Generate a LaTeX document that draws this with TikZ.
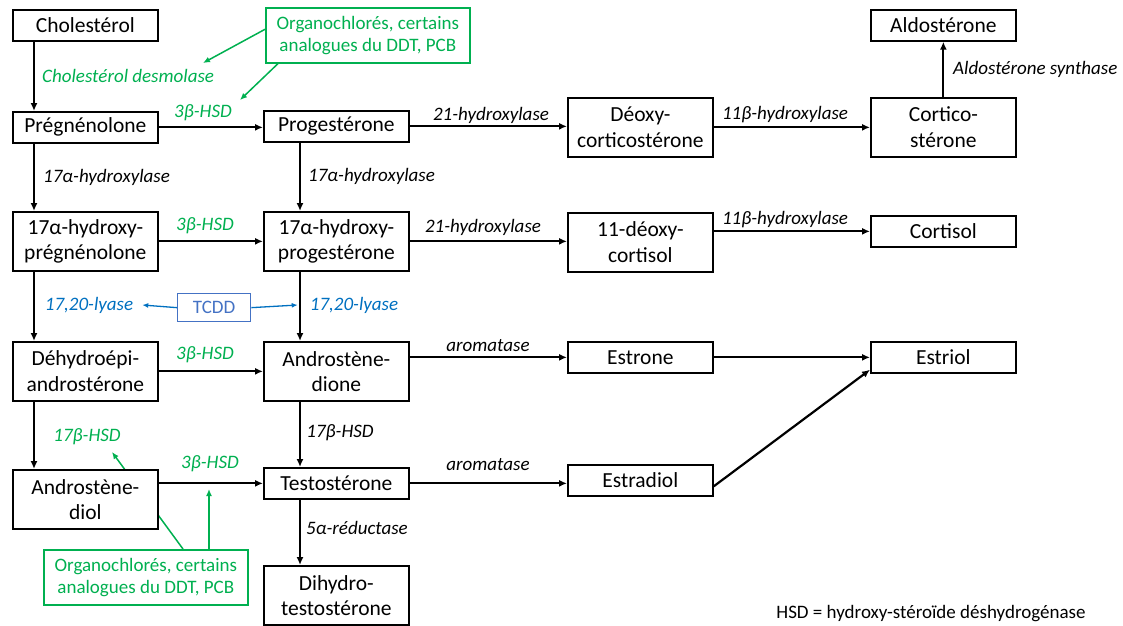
\documentclass[tikz,border=0pt]{standalone}
\usepackage{fontspec}
\setmainfont{Carlito}
\usepackage{xcolor}
\usetikzlibrary{arrows.meta,positioning}
\definecolor{stgreen}{RGB}{0,176,80}
\definecolor{stblue}{RGB}{0,112,192}
\definecolor{sttcdd}{RGB}{68,114,196}
\newcommand{\boxfont}{\fontsize{21.5}{25.5}\selectfont}
\newcommand{\labfont}{\fontsize{19}{22.5}\selectfont}
\pgfdeclarelayer{back}
\pgfsetlayers{back,main}

\begin{document}
\begin{tikzpicture}[
  x=1pt,
  y=-1pt,
  box/.style={
    draw=black,
    line width=1.7pt,
    fill=white,
    minimum width=145pt,
    minimum height=31pt,
    inner sep=2pt,
    align=center,
    font=\boxfont,
    anchor=north west
  },
  tall/.style={
    box,
    minimum height=59pt
  },
  tox/.style={
    draw=stgreen,
    line width=1.6pt,
    fill=white,
    text=stgreen,
    minimum width=204pt,
    minimum height=55pt,
    inner sep=2pt,
    align=center,
    font=\labfont,
    anchor=north west
  },
  lab/.style={
    font=\labfont\itshape,
    inner sep=1pt
  },
  glab/.style={lab, text=stgreen},
  blab/.style={lab, text=stblue},
  arr/.style={
    -{Latex[length=8pt,width=7pt]},
    line width=2.2pt
  },
  garr/.style={
    -{Latex[length=7pt,width=6pt]},
    line width=1.5pt,
    stgreen
  },
  barr/.style={
    -{Latex[length=6pt,width=5pt]},
    line width=1.3pt,
    stblue
  }
]
\useasboundingbox (0,0) rectangle (1123,625);

% column 1
\node[box] (chol) at (12,9) {Cholestérol};
\node[box] (preg) at (12,111) {Prégnénolone};
\node[tall] (ohpreg) at (12,211) {17α-hydroxy-\\prégnénolone};
\node[tall] (dhea) at (12,341) {Déhydroépi-\\androstérone};
\node[tall] (androdiol) at (12,469) {Androstène-\\diol};

% column 2
\node[box] (prog) at (263,110) {Progestérone};
\node[tall] (ohprog) at (263,211) {17α-hydroxy-\\progestérone};
\node[tall] (androdione) at (263,341) {Androstène-\\dione};
\node[box] (testo) at (263,467) {Testostérone};
\node[tall] (dht) at (263,565) {Dihydro-\\testostérone};

% column 3
\node[tall] (deoxycort) at (567,97) {Déoxy-\\corticostérone};
\node[tall] (deoxycortisol) at (567,212) {11-déoxy-\\cortisol};
\node[box] (estrone) at (567,341) {Estrone};
\node[box] (estradiol) at (567,464) {Estradiol};

% column 4
\node[box] (aldo) at (870,9) {Aldostérone};
\node[tall] (corticost) at (870,97) {Cortico-\\stérone};
\node[box] (cortisol) at (870,215) {Cortisol};
\node[box] (estriol) at (870,341) {Estriol};

% disruptors
\node[tox] (toxtop) at (265,7) {Organochlorés, certains\\analogues du DDT, PCB};
\node[tox] (toxbot) at (43,549) {Organochlorés, certains\\analogues du DDT, PCB};
\node[
  draw=sttcdd,
  line width=1.3pt,
  text=sttcdd,
  minimum width=73pt,
  minimum height=28pt,
  inner sep=2pt,
  font=\labfont,
  anchor=north west
] (tcdd) at (177,293) {TCDD};

% enzyme labels
\node[glab, anchor=west] (desmo) at (41,76) {Cholestérol desmolase};
\node[glab] (hsdpreg) at (203,113) {3β-HSD};
\node[lab] (hydprog) at (491,115) {21-hydroxylase};
\node[lab] (hyddeoxy) at (785,115) {11β-hydroxylase};
\node[lab, anchor=west] (aldosyn) at (952,69) {Aldostérone synthase};
\node[lab, anchor=west] (hydpreg) at (42,177) {17α-hydroxylase};
\node[lab, anchor=west] (hydprogb) at (307,176) {17α-hydroxylase};
\node[glab] (hsdoh) at (205,226) {3β-HSD};
\node[lab] (hydoh) at (483,227) {21-hydroxylase};
\node[lab] (hydcortisol) at (785,220) {11β-hydroxylase};
\node[blab] (lyasea) at (89,305) {17,20-lyase};
\node[blab] (lyaseb) at (354,305) {17,20-lyase};
\node[glab] (hsddhea) at (205,355) {3β-HSD};
\node[lab] (aromone) at (488,346) {aromatase};
\node[glab] (hsdseventeen) at (87,437) {17β-HSD};
\node[lab] (hsdandro) at (340,433) {17β-HSD};
\node[glab] (hsddiol) at (210,464) {3β-HSD};
\node[lab] (aromdiol) at (488,465) {aromatase};
\node[lab] (reduct) at (357,528) {5α-réductase};
\node[font=\labfont, inner sep=1pt] (note) at (931,614) {HSD = hydroxy-stéroïde déshydrogénase};

\coordinate (desmotip) at (203,63);
\coordinate (hsdtip) at (240,100);
\coordinate (seventip) at (112,452);
\coordinate (diolTip) at (209,489);

% main pathway
\draw[arr] ([xshift=22pt]chol.south west) -- ([xshift=22pt]preg.north west);
\draw[arr] ([xshift=22pt]preg.south west) -- ([xshift=22pt]ohpreg.north west);
\draw[arr] ([xshift=22pt]ohpreg.south west) -- ([xshift=22pt]dhea.north west);
\draw[arr] ([xshift=22pt]dhea.south west) -- ([xshift=22pt]androdiol.north west);

\draw[arr] ([xshift=37pt]prog.south west) -- ([xshift=37pt]ohprog.north west);
\draw[arr] ([xshift=37pt]ohprog.south west) -- ([xshift=37pt]androdione.north west);
\draw[arr] ([xshift=37pt]androdione.south west) -- ([xshift=37pt]testo.north west);
\draw[arr] ([xshift=37pt]testo.south west) -- ([xshift=37pt]dht.north west);

\draw[arr] (preg.east) -- (prog.west |- preg.east);
\draw[arr] (prog.east) -- (deoxycort.west |- prog.east);
\draw[arr] (deoxycort.east) -- (corticost.west);
\draw[arr] (corticost.north) -- (aldo.south);

\draw[arr] (ohpreg.east) -- (ohprog.west);
\draw[arr] (ohprog.east) -- (deoxycortisol.west |- ohprog.east);
\draw[arr] (deoxycortisol.east |- cortisol.west) -- (cortisol.west);

\draw[arr] (dhea.east) -- (androdione.west |- dhea.east);
\draw[arr] (androdione.east |- estrone.west) -- (estrone.west);
\draw[arr] (estrone.east) -- (estriol.west |- estrone.east);

\draw[arr] (androdiol.east |- testo.west) -- (testo.west);
\draw[arr] (testo.east) -- (estradiol.west |- testo.east);
\draw[arr] ([yshift=-6pt]estradiol.east) -- ([yshift=4pt]estriol.south west);

% inhibitors
\draw[garr] ([yshift=6pt]toxtop.west) -- (desmotip);
\draw[garr] ([xshift=13pt]toxtop.south west) -- (hsdtip);
\begin{pgfonlayer}{back}
\draw[garr] ([xshift=140pt]toxbot.north west) -- (seventip);
\end{pgfonlayer}
\draw[garr] ([xshift=166pt]toxbot.north west) -- (diolTip);

\draw[barr] (tcdd.west) -- ([xshift=8pt]lyasea.east);
\draw[barr] (tcdd.east) -- ([xshift=-11pt]lyaseb.west);

\end{tikzpicture}
\end{document}
